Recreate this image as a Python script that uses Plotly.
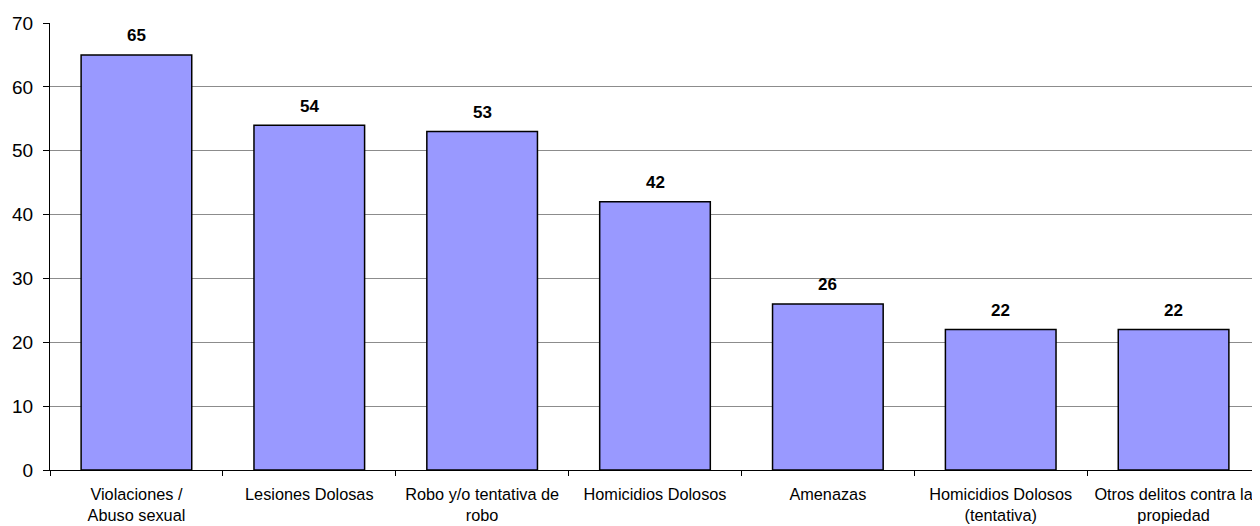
import plotly.graph_objects as go

categories = [
    "Violaciones /<br>Abuso sexual",
    "Lesiones Dolosas",
    "Robo y/o tentativa de<br>robo",
    "Homicidios Dolosos",
    "Amenazas",
    "Homicidios Dolosos<br>(tentativa)",
    "Otros delitos contra la<br>propiedad",
]
values = [65, 54, 53, 42, 26, 22, 22]
y_ticks = [0, 10, 20, 30, 40, 50, 60, 70]

fig = go.Figure()
fig.add_trace(go.Bar(
    x=categories, y=values,
    marker=dict(color="#9999FF", line=dict(color="black", width=1.5)),
    hoverinfo="x+y",
))

for c, v in zip(categories, values):
    fig.add_annotation(x=c, y=v, text="<b>%d</b>" % v, showarrow=False,
                       yanchor="middle", yshift=19,
                       font=dict(family="Liberation Sans, Arial", size=17, color="black"))

# page body has an 8px default margin, so offsets are compensated
fig.update_layout(
    width=1252, height=518,
    margin=dict(l=42, r=0, t=15, b=56, autoexpand=False),
    paper_bgcolor="white", plot_bgcolor="white",
    bargap=0.36, showlegend=False,
    font=dict(family="Liberation Sans, Arial", color="black"),
)
fig.update_xaxes(
    type="category", tickson="boundaries", automargin=False,
    ticks="outside", ticklen=5, tickcolor="black", tickwidth=1,
    showline=True, linecolor="black", linewidth=1,
    showgrid=False, ticklabelstandoff=9,
    tickfont=dict(family="Liberation Sans, Arial", size=16.3, color="black"),
)
fig.update_yaxes(
    range=[0, 70], tickvals=y_ticks, automargin=False,
    ticks="outside", ticklen=6, tickcolor="black", tickwidth=1,
    showline=True, linecolor="black", linewidth=1,
    showgrid=True, gridcolor="#8c8c8c", gridwidth=1,
    zeroline=False, ticklabelstandoff=6,
    tickfont=dict(family="Liberation Sans, Arial", size=19, color="black"),
)

fig.write_html("out.html")
